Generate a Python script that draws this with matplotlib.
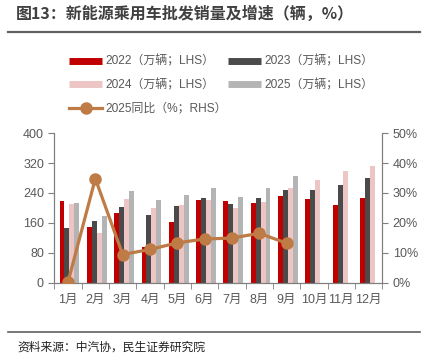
import matplotlib
matplotlib.use("Agg")
import matplotlib.pyplot as plt
from matplotlib.lines import Line2D
import numpy as np

plt.rcParams['font.family'] = ['Liberation Sans', 'Noto Sans CJK SC', 'DejaVu Sans']

months = ["1月", "2月", "3月", "4月", "5月", "6月", "7月", "8月", "9月", "10月", "11月", "12月"]
s2022 = [219, 148, 186, 96, 163, 222, 218, 213, 232, 223, 207, 227]
s2023 = [147, 165, 202, 181, 205, 227, 210, 227, 248, 248, 261, 280]
s2024 = [211, 133, 224, 200, 208, 222, 199, 217, 253, 275, 300, 311]
s2025 = [212, 179, 245, 222, 235, 254, 230, 254, 286]
yoy2025 = [0.2, 34.8, 9.4, 11.1, 13.3, 14.6, 14.9, 16.5, 13.2]

labels = ["2022（万辆；LHS）", "2023（万辆；LHS）", "2024（万辆；LHS）", "2025（万辆；LHS）", "2025同比（%；RHS）"]
colors = ["#C00000", "#4A4A4A", "#EDC5C5", "#B4B4B4"]
line_color = "#BF7B45"
txt_color = "#595959"
axis_color = "#7F7F7F"

fig = plt.figure(figsize=(4.28, 3.6), dpi=100)
ax = fig.add_axes([0.127, 0.215, 0.766, 0.415])
ax2 = ax.twinx()

x = np.arange(len(months))
w = 0.18
series = [s2022, s2023, s2024, s2025]
for i, (s, c) in enumerate(zip(series, colors)):
    xi = np.arange(len(s)) + (i - 1.5) * w + 0.05
    ax.bar(xi, s, width=w, color=c, zorder=2)

ax2.plot(np.arange(len(yoy2025)), yoy2025, color=line_color, lw=2.3, marker='o', ms=8, zorder=3)

ax.set_xlim(-0.5, 11.5)
ax.set_ylim(0, 400)
ax.set_yticks([0, 80, 160, 240, 320, 400])
ax2.set_ylim(0, 50)
ax2.set_yticks([0, 10, 20, 30, 40, 50])
ax2.set_yticklabels([f"{v}%" for v in [0, 10, 20, 30, 40, 50]])
ax.set_xticks(x)
ax.set_xticklabels(months)
ax.set_xticks(np.arange(-0.5, 12, 1), minor=True)
ax.tick_params(axis='x', which='major', length=0, pad=8, labelsize=9)
ax.tick_params(axis='x', which='minor', length=4, color=axis_color, direction='out')
ax.tick_params(axis='y', length=4, color=axis_color, labelsize=9, direction='out')
ax2.tick_params(axis='y', length=4, color=axis_color, labelsize=9, direction='out')
for a in (ax, ax2):
    a.spines['top'].set_visible(False)
    for sp in ('left', 'right', 'bottom'):
        a.spines[sp].set_color(axis_color)
for t in ax.get_yticklabels() + ax2.get_yticklabels() + ax.get_xticklabels():
    t.set_color(txt_color)

# legend (row-major order: 2022, 2023 / 2024, 2025 / 2025同比)
handles = [Line2D([0], [0], color=c, lw=5, solid_capstyle='butt') for c in colors]
handles.append(Line2D([0], [0], color=line_color, lw=2.3, marker='o', ms=8))
order = [0, 2, 4, 1, 3]
leg = fig.legend([handles[i] for i in order], [labels[i] for i in order], ncol=2,
                 loc='upper left', bbox_to_anchor=(0.145, 0.866),
                 frameon=False, fontsize=8.6, handlelength=2.75, handletextpad=0.3,
                 columnspacing=0.05, labelspacing=0.95, borderaxespad=0.2)
for t in leg.get_texts():
    t.set_color(txt_color)

# title and footer
fig.text(0.037, 0.962, "图13：新能源乘用车批发销量及增速（辆，%）", fontsize=11.5, fontweight='bold',
         color="#404040", va='center', ha='left', family=['Noto Sans CJK SC', 'DejaVu Sans'])
fig.add_artist(Line2D([0.019, 0.981], [0.911, 0.911], color="#606060", lw=1.6))
fig.add_artist(Line2D([0.019, 0.981], [0.078, 0.078], color="#606060", lw=1.2))
fig.text(0.04, 0.036, "资料来源：中汽协，民生证券研究院", fontsize=8.5, color="#202020", va='center', ha='left',
         family=['Noto Sans CJK SC', 'DejaVu Sans'])

fig.savefig("out.png", dpi=100)
